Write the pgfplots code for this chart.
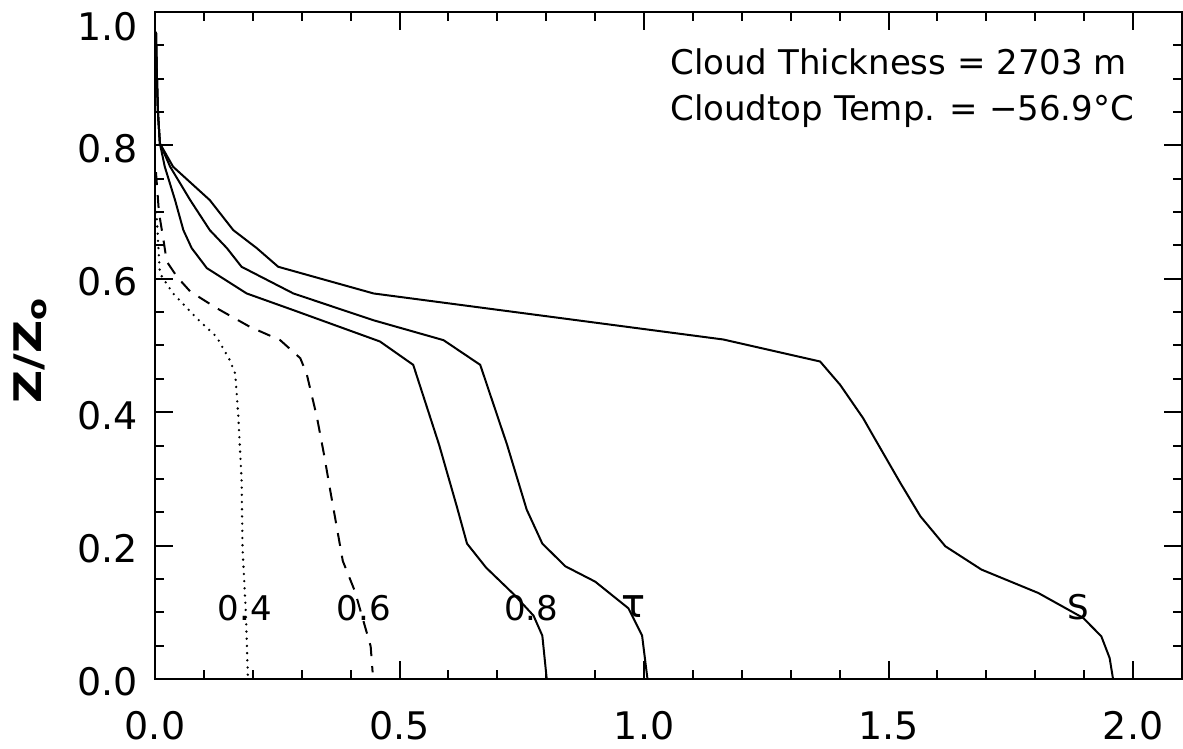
\documentclass[border=0pt]{standalone}
\usepackage{pgfplots}
\pgfplotsset{compat=1.18}
\usepackage{fontspec}
\setmainfont{DejaVu Sans}

\begin{document}
\begin{tikzpicture}
\begin{axis}[
  name=ax,
  scale only axis,
  width=513.5pt, height=333.5pt,
  xmin=0, xmax=2.1, ymin=0, ymax=1.0,
  xtick={0,0.5,1,1.5,2}, ytick={0,0.2,0.4,0.6,0.8,1.0},
  yticklabels={0.0,0.2,0.4,0.6,0.8,\raisebox{-6pt}[\height][\depth]{1.0}},
  minor x tick num=4, minor y tick num=3,
  tick align=inside, tick pos=both,
  major tick length=9pt, minor tick length=4.5pt,
  every tick/.append style={black, line width=1pt},
  axis line style={line width=1.3pt},
  /pgf/number format/assume math mode=true,
  /pgf/number format/fixed,
  /pgf/number format/fixed zerofill,
  /pgf/number format/precision=1,
  tick label style={font=\fontsize{19}{22}\selectfont},
  xticklabel style={inner sep=0pt, anchor=north, yshift=-16pt},
  yticklabel style={inner sep=0pt, anchor=east, xshift=-8.5pt, yshift=-1.5pt},
  clip=false,
]
% 0.4 (dotted)
\addplot[black, line width=1.3pt, line cap=round, dash pattern=on 0pt off 3.6pt] coordinates {
(0.003,0.70) (0.006,0.66) (0.010,0.608) (0.037,0.578) (0.085,0.541) (0.126,0.513)
(0.153,0.478) (0.164,0.458) (0.170,0.398) (0.177,0.300) (0.179,0.197) (0.186,0.095) (0.190,0)
};
% 0.6 (dashed)
\addplot[black, line width=1pt, dash pattern=on 6.5pt off 5pt] coordinates {
(0.002,0.76) (0.008,0.70) (0.018,0.655) (0.024,0.626) (0.045,0.603) (0.072,0.581)
(0.126,0.556) (0.194,0.528) (0.256,0.508) (0.297,0.481) (0.310,0.458) (0.331,0.393)
(0.346,0.335) (0.358,0.284) (0.384,0.177) (0.409,0.131) (0.441,0.049) (0.445,0.01)
};
% 0.8
\addplot[black, line width=1pt] coordinates {
(0.002,0.97) (0.004,0.90) (0.006,0.85) (0.010,0.803) (0.020,0.768) (0.041,0.718)
(0.058,0.673) (0.075,0.646) (0.106,0.616) (0.1875,0.578) (0.283,0.553) (0.460,0.506)
(0.528,0.471) (0.581,0.351) (0.617,0.259) (0.638,0.203) (0.677,0.167) (0.735,0.126)
(0.774,0.095) (0.792,0.065) (0.801,0)
};
% tau
\addplot[black, line width=1pt] coordinates {
(0.002,0.97) (0.004,0.90) (0.006,0.85) (0.010,0.803) (0.031,0.768) (0.072,0.718)
(0.112,0.673) (0.147,0.646) (0.177,0.618) (0.283,0.578) (0.446,0.538) (0.590,0.508)
(0.665,0.471) (0.720,0.351) (0.760,0.254) (0.792,0.203) (0.839,0.169) (0.900,0.146)
(0.968,0.106) (0.996,0.065) (1.007,0)
};
% S
\addplot[black, line width=1pt] coordinates {
(0.002,0.97) (0.004,0.90) (0.006,0.85) (0.010,0.803) (0.037,0.768) (0.112,0.718)
(0.160,0.673) (0.208,0.646) (0.252,0.618) (0.447,0.578) (1.162,0.509) (1.360,0.476)
(1.401,0.441) (1.448,0.391) (1.469,0.364) (1.524,0.294) (1.565,0.244) (1.616,0.199)
(1.690,0.164) (1.806,0.129) (1.898,0.0915) (1.935,0.064) (1.952,0.0315) (1.959,0)
};
\node[font=\fontsize{17}{20}\selectfont, inner sep=0pt] at (axis cs:0.184,0.107) {0.4};
\node[font=\fontsize{17}{20}\selectfont, inner sep=0pt] at (axis cs:0.427,0.107) {0.6};
\node[font=\fontsize{17}{20}\selectfont, inner sep=0pt] at (axis cs:0.769,0.107) {0.8};
\node[font=\fontsize{20}{22}\selectfont, inner sep=0pt] at (axis cs:0.978,0.108) {τ};
\node[font=\fontsize{17}{20}\selectfont, inner sep=0pt] at (axis cs:1.888,0.108) {S};
\node[anchor=base west, inner sep=0pt, font=\fontsize{17}{20}\selectfont] at (axis cs:1.053,0.907) {Cloud Thickness = 2703 m};
\node[anchor=base west, inner sep=0pt, font=\fontsize{17}{20}\selectfont] at (axis cs:1.053,0.837) {Cloudtop Temp. = −56.9°C};
\node[rotate=90, inner sep=0pt, font=\fontsize{19}{22}\selectfont\bfseries] at ([xshift=-62.5pt]rel axis cs:0,0.493) {\scalebox{1.2}[1]{Z/Z\textsubscript{o}}};
\end{axis}
\pgfresetboundingbox
\path[use as bounding box] ([xshift=-77.5pt,yshift=-35pt]ax.south west) rectangle ([xshift=0.5pt,yshift=6pt]ax.north east);
\end{tikzpicture}
\end{document}
